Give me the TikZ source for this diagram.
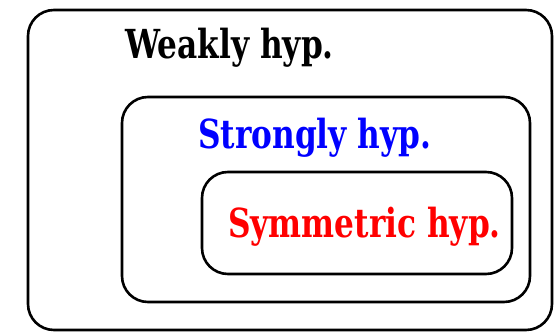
\documentclass[tikz,border=0pt]{standalone}
\usepackage{fontspec}
\setmainfont{DejaVu Serif}
\newcommand{\squeezed}[1]{\scalebox{0.78}[1]{#1}}
\begin{document}
\begin{tikzpicture}[x=1pt,y=1pt,
  setbox/.style={draw=black,line width=2.6pt,rounded corners=26pt},
  lbl/.style={anchor=base west,inner sep=0pt,font=\bfseries\fontsize{40}{44}\selectfont}]
\useasboundingbox (0,0) rectangle (557,334);
\draw[setbox] (28,4) rectangle (552,324);
\draw[setbox] (122,32) rectangle (530,237);
\draw[setbox] (202,60) rectangle (512,162);
\node[lbl,text=black] (w) at (125,275) {\squeezed{Weakly hyp.}};
\node[lbl,text=blue] (s) at (198,185) {\squeezed{Strongly hyp.}};
\node[lbl,text=red] (y) at (228,96) {\squeezed{Symmetric hyp.}};
\end{tikzpicture}
\end{document}
